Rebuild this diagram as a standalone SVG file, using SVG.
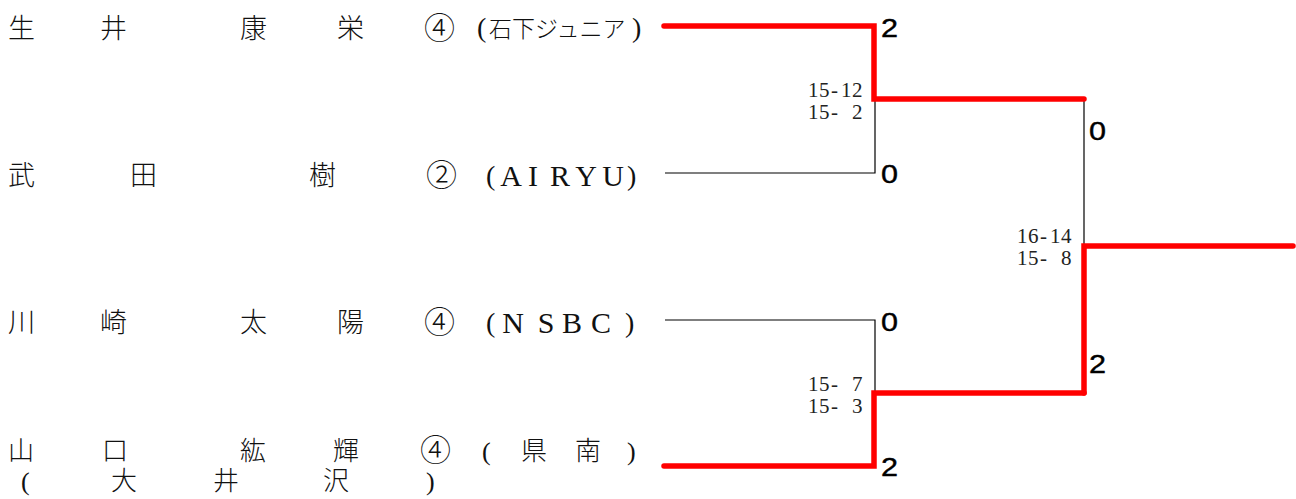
<svg xmlns="http://www.w3.org/2000/svg" width="1296" height="499" viewBox="0 0 1296 499">
<style>
.n{font-family:"Noto Sans CJK JP","Noto Sans CJK SC",sans-serif;font-size:27px;fill:#111;font-weight:300}
.m{font-family:"Noto Sans CJK JP","Noto Sans CJK SC",sans-serif;font-size:26px;fill:#111;font-weight:300}
.c{font-family:"Noto Sans CJK JP","Noto Sans CJK SC",sans-serif;font-size:31px;fill:#111;font-weight:300}
.p{font-family:"Liberation Serif",serif;font-size:28px;fill:#111}
.q{font-family:"Liberation Serif",serif;font-size:26px;fill:#111}
.l{font-family:"Liberation Serif",serif;font-size:30px;fill:#111;text-anchor:middle}
.s{font-family:"Liberation Serif",serif;font-size:21px;fill:#222}
.sc{font-family:"Liberation Sans",Arial,sans-serif;font-size:25px;fill:#000;stroke:#000;stroke-width:0.4}
.r{stroke:#ff0000;stroke-width:5.5;fill:none;stroke-linecap:round;stroke-linejoin:miter}
.k{stroke:#000;stroke-width:1.2;fill:none}
</style>
<rect width="1296" height="499" fill="#fff"/>
<g id="p1">
<text class="n" x="8 100 240 337" y="38">生井康栄</text>
<text class="c" x="424" y="39">④</text>
<text class="p" x="477" y="37">(</text>
<text class="n" x="489" y="37" style="font-size:23px">石下ジュニア</text>
<text class="p" x="632" y="37">)</text>
</g>
<g id="p2">
<text class="n" x="8 130 309" y="185">武田樹</text>
<text class="c" x="426" y="186">②</text>
<text class="p" x="486" y="185">(</text>
<text class="l" x="511 533 560 586 613" y="186">AIRYU</text>
<text class="p" x="627" y="185">)</text>
</g>
<g id="p3">
<text class="n" x="8 100 240 337" y="332">川崎太陽</text>
<text class="c" x="424" y="333">④</text>
<text class="p" x="486" y="332">(</text>
<text class="l" x="513 546 572 601" y="333">NSBC</text>
<text class="p" x="625" y="332">)</text>
</g>
<g id="p4">
<text class="m" x="8 102 240 333" y="460">山口紘輝</text>
<text class="c" x="420" y="461">④</text>
<text class="q" x="482" y="460">(</text>
<text class="m" x="521 575" y="460">県南</text>
<text class="q" x="627" y="460">)</text>
<text class="q" x="21" y="490">(</text>
<text class="m" x="111 213 323" y="490">大井沢</text>
<text class="q" x="426" y="490">)</text>
</g>
<g id="connectors">
<path class="k" d="M665 173H875V99"/>
<path class="k" d="M665 320H875V393"/>
<path class="k" d="M1084 99V246"/>
<path class="r" d="M664 26H874V99H1084"/>
<path class="r" d="M664 466H874V393H1084"/>
<path class="r" d="M1293 246H1084V393"/>
</g>
<g id="scores">
<text class="sc" x="881" y="37" textLength="17" lengthAdjust="spacingAndGlyphs">2</text>
<text class="sc" x="881" y="183" textLength="17" lengthAdjust="spacingAndGlyphs">0</text>
<text class="sc" x="881" y="331" textLength="17" lengthAdjust="spacingAndGlyphs">0</text>
<text class="sc" x="881" y="476" textLength="17" lengthAdjust="spacingAndGlyphs">2</text>
<text class="sc" x="1089" y="140" textLength="17" lengthAdjust="spacingAndGlyphs">0</text>
<text class="sc" x="1089" y="373" textLength="17" lengthAdjust="spacingAndGlyphs">2</text>
<text class="s" x="808 819 831 841 852" y="97">15-12</text>
<text class="s" x="808 819 831 852" y="119">15-2</text>
<text class="s" x="1017 1028 1040 1050 1061" y="243">16-14</text>
<text class="s" x="1017 1028 1040 1061" y="265">15-8</text>
<text class="s" x="808 819 831 852" y="391">15-7</text>
<text class="s" x="808 819 831 852" y="413">15-3</text>
</g>
</svg>
